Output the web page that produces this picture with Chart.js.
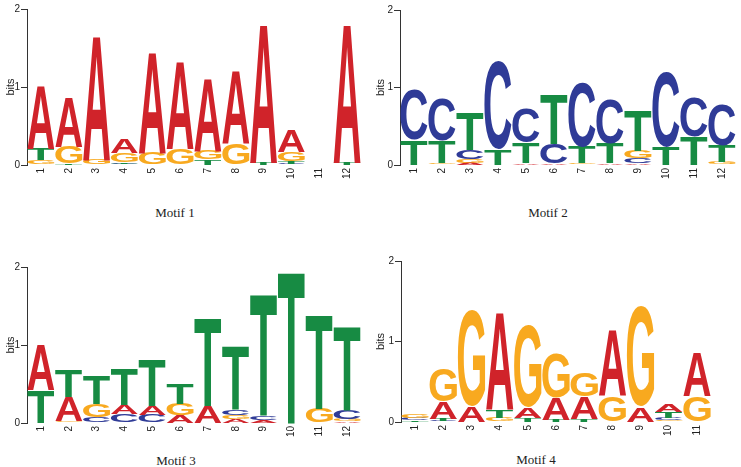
<!DOCTYPE html>
<html lang="en">
<head>
  <meta charset="UTF-8">
  <script src="https://cdn.jsdelivr.net/npm/chart.js"></script>
  <title>Motif logos</title>
  <style>
    body {
      margin: 0;
      padding: 0;
      background-color: #fff;
    }

    #wrap {
      position: relative;
      width: 741px;
      height: 467px;
      overflow: hidden;
    }

    canvas {
      position: absolute;
    }

    .motif-title {
      position: absolute;
      width: 120px;
      text-align: center;
      font-family: "Liberation Serif", "Times New Roman", serif;
      font-size: 13px;
      color: #222;
      line-height: 16px;
    }
  </style>
</head>
<body>
<div id="wrap">
  <canvas id="logo1" width="370" height="195" style="left:0; top:0;"></canvas>
  <canvas id="logo2" width="371" height="195" style="left:370px; top:0;"></canvas>
  <canvas id="logo3" width="370" height="195" style="left:0; top:258px;"></canvas>
  <canvas id="logo4" width="371" height="200" style="left:370px; top:252px;"></canvas>

  <div class="motif-title" style="left:115px; top:205px;">Motif 1</div>
  <div class="motif-title" style="left:488px; top:205px;">Motif 2</div>
  <div class="motif-title" style="left:116px; top:453px;">Motif 3</div>
  <div class="motif-title" style="left:476px; top:452px;">Motif 4</div>
</div>

<script>
  // letter heights in bits, one value per position
  const positions12 = ['1', '2', '3', '4', '5', '6', '7', '8', '9', '10', '11', '12'];
  const positions11 = ['1', '2', '3', '4', '5', '6', '7', '8', '9', '10', '11'];
  const yTicks = [0, 1, 2];

  const motif1A = [0.82, 0.64, 1.60, 0.18, 1.30, 1.14, 0.93, 0.93, 1.79, 0.28, 0, 1.79];
  const motif1C = [0, 0, 0, 0.015, 0, 0, 0, 0, 0, 0.015, 0, 0];
  const motif1G = [0.06, 0.21, 0.07, 0.12, 0.15, 0.21, 0.11, 0.28, 0, 0.12, 0, 0];
  const motif1T = [0.15, 0.02, 0, 0.02, 0, 0, 0.07, 0, 0.03, 0.03, 0, 0.03];

  const motif2A = [0, 0, 0.03, 0, 0.02, 0.02, 0, 0.02, 0.02, 0, 0, 0];
  const motif2C = [0.65, 0.54, 0.11, 1.14, 0.44, 0.25, 0.83, 0.58, 0.065, 0.96, 0.50, 0.53];
  const motif2G = [0, 0.02, 0.05, 0, 0, 0, 0.02, 0, 0.10, 0, 0, 0.04];
  const motif2T = [0.33, 0.29, 0.48, 0.205, 0.27, 0.64, 0.215, 0.26, 0.52, 0.235, 0.37, 0.21];

  const motif3A = [0.59, 0.315, 0, 0.12, 0.12, 0.10, 0.215, 0.05, 0.04, 0, 0, 0.02];
  const motif3C = [0, 0, 0.08, 0.11, 0.10, 0, 0, 0.065, 0.045, 0, 0, 0.11];
  const motif3G = [0, 0.02, 0.16, 0, 0, 0.15, 0, 0.055, 0, 0, 0.185, 0.03];
  const motif3T = [0.42, 0.345, 0.36, 0.46, 0.60, 0.27, 1.13, 0.81, 1.56, 1.95, 1.215, 1.08];

  const motif4A = [0, 0.216, 0.195, 1.21, 0.13, 0.27, 0.28, 0.82, 0.19, 0.10, 0.555];
  const motif4C = [0.03, 0.015, 0, 0, 0, 0, 0, 0, 0, 0.03, 0];
  const motif4G = [0.04, 0.40, 1.20, 0.05, 1.01, 0.56, 0.29, 0.32, 1.24, 0.02, 0.32];
  const motif4T = [0.02, 0.025, 0, 0.10, 0.05, 0.03, 0.04, 0, 0, 0.08, 0];

  const letterColors = { A: '#d0232a', C: '#2f3b97', G: '#f8a91f', T: '#178b43' };
  const fontFamily = '"Liberation Sans", Arial, sans-serif';

  // stack order per position: smallest letter at the bottom
  function buildLayers(heights) {
    const letters = Object.keys(heights);
    const n = heights.A.length;
    const layers = letters.map(() => ({ data: [], letters: [] }));
    for (let i = 0; i < n; i++) {
      const col = letters.map(l => [l, heights[l][i]]).sort((a, b) => a[1] - b[1]);
      col.forEach(([l, v], k) => {
        layers[k].data.push(v);
        layers[k].letters.push(l);
      });
    }
    return layers.map((layer, k) => ({
      label: 'layer ' + k,
      data: layer.data,
      letters: layer.letters,
      backgroundColor: 'rgba(0,0,0,0)',
      borderWidth: 0,
      barPercentage: 0.97,
      categoryPercentage: 1.0,
    }));
  }

  // draws each stacked bar as a stretched letter glyph
  const glyphCache = {};
  function glyphBox(ctx, letter) {
    if (glyphCache[letter]) return glyphCache[letter];
    ctx.font = 'bold 100px ' + fontFamily;
    const m = ctx.measureText(letter);
    glyphCache[letter] = {
      left: m.actualBoundingBoxLeft,
      width: m.actualBoundingBoxLeft + m.actualBoundingBoxRight,
      ascent: m.actualBoundingBoxAscent,
      height: m.actualBoundingBoxAscent + m.actualBoundingBoxDescent,
    };
    return glyphCache[letter];
  }

  const letterPlugin = {
    id: 'letters',
    afterDatasetsDraw(chart) {
      const ctx = chart.ctx;
      chart.data.datasets.forEach((ds, di) => {
        const meta = chart.getDatasetMeta(di);
        meta.data.forEach((el, j) => {
          const { x, y, base, width } = el.getProps(['x', 'y', 'base', 'width'], true);
          const h = base - y;
          if (h < 0.4) return;
          const letter = ds.letters[j];
          const g = glyphBox(ctx, letter);
          ctx.save();
          ctx.translate(x - width / 2, y);
          ctx.scale(width / g.width, h / g.height);
          ctx.font = 'bold 100px ' + fontFamily;
          ctx.textBaseline = 'alphabetic';
          ctx.textAlign = 'left';
          ctx.fillStyle = letterColors[letter];
          ctx.fillText(letter, g.left, g.ascent);
          ctx.restore();
        });
      });
    }
  };

  function makeLogo(id, labels, heights, yWidth, pad) {
    return new Chart(document.getElementById(id), {
      type: 'bar',
      data: { labels: labels, datasets: buildLayers(heights) },
      plugins: [letterPlugin],
      options: {
        responsive: false,
        animation: false,
        layout: { padding: pad },
        plugins: { legend: { display: false }, tooltip: { enabled: false } },
        scales: {
          x: {
            stacked: true,
            grid: { display: false, drawTicks: false },
            border: { display: false },
            ticks: {
              autoSkip: false,
              minRotation: 90,
              maxRotation: 90,
              padding: 3,
              color: '#222',
              font: { family: fontFamily, size: 10 },
            },
            afterFit: s => { s.height = 30; },
          },
          y: {
            stacked: true,
            min: 0,
            max: 2,
            afterBuildTicks: s => { s.ticks = yTicks.map(v => ({ value: v })); },
            ticks: {
              padding: 1,
              color: '#222',
              font: { family: fontFamily, size: 10 },
            },
            grid: { drawOnChartArea: false, tickLength: 6, tickColor: '#333' },
            border: { color: '#333', width: 1 },
            title: {
              display: true,
              text: 'bits',
              color: '#222',
              font: { family: fontFamily, size: 11 },
              padding: { top: 4, bottom: 0 },
            },
            afterFit: s => { s.width = yWidth; },
          },
        },
      },
    });
  }

  makeLogo('logo1', positions12, { A: motif1A, C: motif1C, G: motif1G, T: motif1T }, 27, { top: 9, right: 9, left: 0, bottom: 0 });
  makeLogo('logo2', positions12, { A: motif2A, C: motif2C, G: motif2G, T: motif2T }, 30, { top: 10, right: 5, left: 0, bottom: 0 });
  makeLogo('logo3', positions12, { A: motif3A, C: motif3C, G: motif3G, T: motif3T }, 27, { top: 9, right: 9, left: 0, bottom: 0 });
  makeLogo('logo4', positions11, { A: motif4A, C: motif4C, G: motif4G, T: motif4T }, 31, { top: 9, right: 30, left: 0, bottom: 0 });
</script>
</body>
</html>
